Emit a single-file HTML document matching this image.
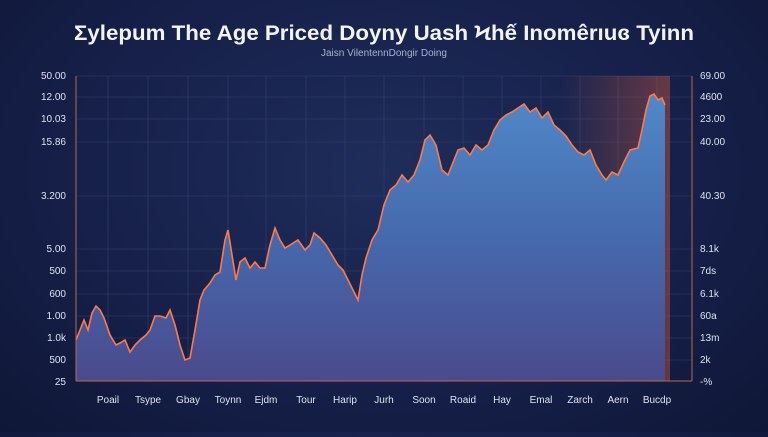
<!DOCTYPE html>
<html><head><meta charset="utf-8"><style>
body{margin:0;width:768px;height:432px;overflow:hidden;background:radial-gradient(ellipse at 50% 40%,#1f2d5a 0%,#16204a 55%,#0f1736 100%);font-family:"Liberation Sans",sans-serif}
</style></head><body>
<svg width="768" height="432" xmlns="http://www.w3.org/2000/svg">
<defs>
<linearGradient id="f" x1="0" y1="0" x2="0" y2="1">
<stop offset="0" stop-color="#5089c8"/><stop offset="0.5" stop-color="#4669ad"/><stop offset="1" stop-color="#4a4a8c"/></linearGradient>
<linearGradient id="g" x1="0" y1="0" x2="1" y2="0">
<stop offset="0" stop-color="#ff6a3a" stop-opacity="0"/><stop offset="1" stop-color="#ff6a3a" stop-opacity="0.35"/></linearGradient>
</defs>
<text x="384" y="40" text-anchor="middle" fill="#f2f4fa" font-size="21.5" font-weight="bold" font-family="Liberation Sans" textLength="620" lengthAdjust="spacingAndGlyphs">Ʃylepum The Age Priced Doyny Uash Ϟhế Ɩnomêrıuɞ Tyinn</text>
<text x="384" y="56" text-anchor="middle" fill="#a9b3d3" font-size="10">Jaisn VilentennDongir Doing</text>
<g stroke="#34406e" stroke-width="0.6">
<line x1="76" y1="76" x2="692" y2="76"/><line x1="76" y1="97" x2="692" y2="97"/><line x1="76" y1="119" x2="692" y2="119"/><line x1="76" y1="142" x2="692" y2="142"/><line x1="76" y1="196" x2="692" y2="196"/><line x1="76" y1="249" x2="692" y2="249"/><line x1="76" y1="271" x2="692" y2="271"/><line x1="76" y1="294" x2="692" y2="294"/><line x1="76" y1="316" x2="692" y2="316"/><line x1="76" y1="338" x2="692" y2="338"/><line x1="76" y1="360" x2="692" y2="360"/>
<line x1="108" y1="76" x2="108" y2="381"/><line x1="148" y1="76" x2="148" y2="381"/><line x1="188" y1="76" x2="188" y2="381"/><line x1="228" y1="76" x2="228" y2="381"/><line x1="266" y1="76" x2="266" y2="381"/><line x1="306" y1="76" x2="306" y2="381"/><line x1="345" y1="76" x2="345" y2="381"/><line x1="384" y1="76" x2="384" y2="381"/><line x1="424" y1="76" x2="424" y2="381"/><line x1="463" y1="76" x2="463" y2="381"/><line x1="502" y1="76" x2="502" y2="381"/><line x1="541" y1="76" x2="541" y2="381"/><line x1="580" y1="76" x2="580" y2="381"/><line x1="618" y1="76" x2="618" y2="381"/><line x1="657" y1="76" x2="657" y2="381"/>
</g>
<rect x="560" y="76" width="110" height="305" fill="url(#g)"/>
<path id="p" d="M76,340 L80,330 84,320 88,330 92,313 96,306 100,310 104,318 110,335 116,345 120,343 125,340 130,352 135,345 140,340 146,335 150,330 155,316 160,316 166,318 170,310 175,325 180,345 185,360 190,358 195,330 200,300 204,290 210,283 215,275 220,272 225,240 228,230 232,255 236,280 240,262 245,258 250,268 255,262 260,268 265,268 270,245 275,228 280,240 285,248 290,245 298,240 305,250 310,245 314,233 320,238 326,245 332,255 338,265 343,270 348,280 353,290 358,300 362,275 366,258 372,240 378,230 384,205 390,190 396,185 402,175 408,182 414,175 420,160 425,140 430,135 436,145 442,170 448,175 454,160 458,150 464,148 470,155 476,145 482,150 488,145 494,130 500,120 506,115 512,112 518,108 524,104 530,112 536,108 542,118 548,112 554,125 560,130 566,136 572,145 578,152 584,155 590,150 596,165 602,175 606,180 612,172 618,175 624,162 630,150 638,148 642,130 646,110 650,96 654,94 658,100 662,98 665,105" fill="none"/>
<path d="M76,340 L80,330 84,320 88,330 92,313 96,306 100,310 104,318 110,335 116,345 120,343 125,340 130,352 135,345 140,340 146,335 150,330 155,316 160,316 166,318 170,310 175,325 180,345 185,360 190,358 195,330 200,300 204,290 210,283 215,275 220,272 225,240 228,230 232,255 236,280 240,262 245,258 250,268 255,262 260,268 265,268 270,245 275,228 280,240 285,248 290,245 298,240 305,250 310,245 314,233 320,238 326,245 332,255 338,265 343,270 348,280 353,290 358,300 362,275 366,258 372,240 378,230 384,205 390,190 396,185 402,175 408,182 414,175 420,160 425,140 430,135 436,145 442,170 448,175 454,160 458,150 464,148 470,155 476,145 482,150 488,145 494,130 500,120 506,115 512,112 518,108 524,104 530,112 536,108 542,118 548,112 554,125 560,130 566,136 572,145 578,152 584,155 590,150 596,165 602,175 606,180 612,172 618,175 624,162 630,150 638,148 642,130 646,110 650,96 654,94 658,100 662,98 665,105 L665,381 L76,381 Z" fill="url(#f)"/>
<use href="#p" stroke="#ff7a4a" stroke-width="1.6"/>
<g stroke="#c0674a" stroke-width="1"><line x1="76" y1="76" x2="76" y2="381"/><line x1="76" y1="381" x2="692" y2="381"/><line x1="692" y1="76" x2="692" y2="381"/></g>
<g fill="#dfe3f0" font-size="10" text-anchor="end">
<text x="66" y="79">50.00</text><text x="66" y="100">12.00</text><text x="66" y="122">10.03</text><text x="66" y="145">15.86</text><text x="66" y="199">3.200</text><text x="66" y="252">5.00</text><text x="66" y="274">500</text><text x="66" y="297">600</text><text x="66" y="319">1.00</text><text x="66" y="341">1.0k</text><text x="66" y="363">500</text><text x="66" y="385">25</text>
</g>
<g fill="#dfe3f0" font-size="10">
<text x="700" y="79">69.00</text><text x="700" y="100">4600</text><text x="700" y="122">23.00</text><text x="700" y="145">40.00</text><text x="700" y="199">40.30</text><text x="700" y="252">8.1k</text><text x="700" y="274">7ds</text><text x="700" y="297">6.1k</text><text x="700" y="319">60a</text><text x="700" y="341">13m</text><text x="700" y="363">2k</text><text x="700" y="385">-%</text>
</g>
<g fill="#dfe3f0" font-size="10" text-anchor="middle">
<text x="108" y="403">Poail</text><text x="148" y="403">Tsype</text><text x="188" y="403">Gbay</text><text x="228" y="403">Toynn</text><text x="266" y="403">Ejdm</text><text x="306" y="403">Tour</text><text x="345" y="403">Harip</text><text x="384" y="403">Jurh</text><text x="424" y="403">Soon</text><text x="463" y="403">Roaid</text><text x="502" y="403">Hay</text><text x="541" y="403">Emal</text><text x="580" y="403">Zarch</text><text x="618" y="403">Aern</text><text x="657" y="403">Bucdp</text>
</g>
</svg>
</body></html>
